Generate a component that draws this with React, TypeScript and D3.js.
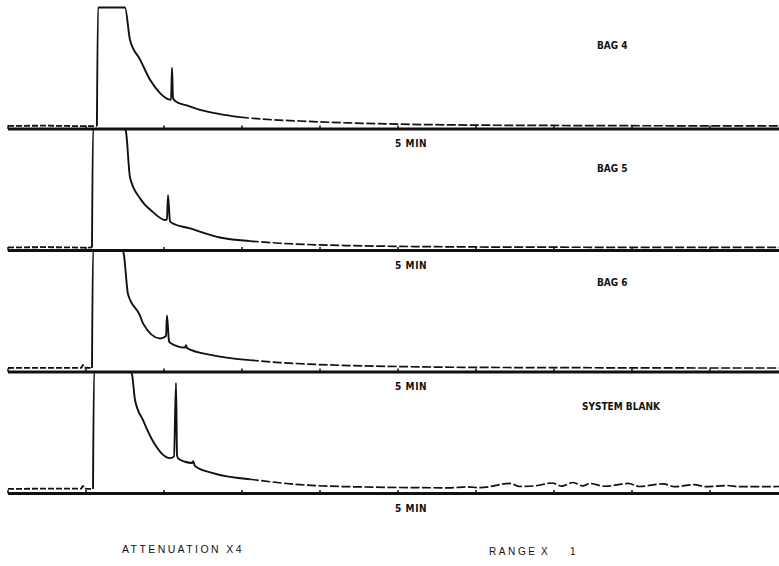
import React from "react";
import * as d3 from "d3";

// four chromatograms, response in % of chart full scale (pen clipped at 100)
const panelNames = ["BAG 4", "BAG 5", "BAG 6", "SYSTEM BLANK"];

const bag4Time = [0, 0.5, 1.0, 1.14, 1.154, 1.5, 1.564, 1.692, 1.821, 1.949, 2.051, 2.09, 2.103, 2.115, 2.141, 2.3, 2.462, 2.72, 2.974, 3.23, 3.74, 4.38, 5, 6, 7, 8, 9, 9.9];
const bag4Signal = [1.7, 1.9, 1.5, 1.7, 100, 100, 73, 57, 40, 29, 24, 23.5, 50, 25, 22.5, 18.5, 15, 11.5, 9, 7.5, 5.8, 4.2, 3.2, 2.4, 2.1, 1.9, 1.8, 1.7];

const bag5Time = [0, 0.5, 1.0, 1.077, 1.09, 1.5, 1.513, 1.564, 1.692, 1.859, 2.013, 2.038, 2.051, 2.077, 2.103, 2.333, 2.718, 3.1, 3.487, 4.38, 5, 6, 7, 8, 9, 9.9];
const bag5Signal = [1.7, 1.9, 1.6, 1.7, 100, 100, 97.5, 60, 42.5, 31, 24.5, 25, 45, 23.5, 22, 17.5, 10, 7, 5.2, 3.2, 2.6, 2.1, 1.9, 1.8, 1.7, 1.7];

const bag6Time = [0, 0.5, 0.94, 0.96, 0.98, 1.077, 1.09, 1.474, 1.487, 1.538, 1.692, 1.731, 1.949, 2.026, 2.038, 2.064, 2.077, 2.27, 2.282, 2.295, 2.628, 3.1, 3.487, 4.38, 5, 6, 7, 8, 9, 9.9];
const bag6Signal = [2.5, 2.6, 2.6, 5, 2.7, 2.5, 100, 100, 96, 64, 46, 39.5, 27, 29, 46, 25, 23.5, 19.5, 21.5, 19, 13, 9, 7, 4.5, 3.7, 3.0, 2.8, 2.6, 2.5, 2.5];

const blankTime = [0, 0.5, 0.94, 0.96, 0.98, 1.09, 1.103, 1.577, 1.59, 1.628, 1.731, 1.846, 2.077, 2.128, 2.154, 2.167, 2.179, 2.269, 2.36, 2.372, 2.397, 2.628, 3.1, 3.744, 4.38, 5.67, 5.885, 6.05, 6.436, 6.56, 6.756, 6.974, 7.103, 7.244, 7.37, 7.46, 7.654, 7.949, 8.1, 8.397, 8.55, 8.795, 8.94, 9.218, 9.38, 9.9];
const blankSignal = [3, 3.2, 3.3, 5.5, 3.3, 3, 100, 100, 98, 77, 60, 44, 28.5, 30, 91, 31, 28.5, 25.5, 24.5, 26, 22, 16, 11, 6.5, 4.8, 3.9, 4.7, 4.0, 7.5, 5, 5.5, 7.9, 5.3, 8.3, 5.5, 7.5, 5.2, 7.5, 5, 7.2, 4.8, 6.5, 4.8, 5.8, 4.8, 5];

const panelTimes = [bag4Time, bag5Time, bag6Time, blankTime];
const panelSignals = [bag4Signal, bag5Signal, bag6Signal, blankSignal];

const timeMarkLabel = "5 MIN";
const timeMarkAt = 5;
const attenuationLabel = "ATTENUATION X4";
const rangeLabel = ["RANGE", "X", "1"];

const W = 779;
const H = 566;

export default function App() {
  const x = d3.scaleLinear().domain([0, 10]).range([8, 788]);
  const panelStep = 121.5;
  const firstAxis = 128;
  const panelH = 120.5;
  const labelDy = [79, 78, 85, 83];

  const ink = "#111";

  return (
    <svg width={W} height={H} style={{ display: "block", background: "#fff" }}>
      <style>{`body{margin:0}`}</style>
      <rect x={0} y={0} width={W} height={H} fill="#fff" />
      {panelNames.map((name, i) => {
        const axisY = firstAxis + i * panelStep;
        const y = d3.scaleLinear().domain([0, 100]).range([axisY, axisY - panelH]);
        const pts: [number, number][] = panelTimes[i].map((t, k) => [t, panelSignals[i][k]]);
        const line = d3
          .line<[number, number]>()
          .x((d) => x(d[0]))
          .y((d) => y(d[1]))
          .curve(d3.curveMonotoneX);

        const i0 = pts.findIndex((d) => d[1] >= 99);
        let i1 = pts.findIndex((d) => d[0] > 2.9);
        if (i1 < 0) i1 = pts.length - 1;
        const pre = pts.slice(0, i0);
        const main = pts.slice(i0 - 1, i1 + 1);
        const tail = pts.slice(i1);

        const ticks = x.ticks(10);
        return (
          <g key={name}>
            {/* trace */}
            <path d={line(pre) || ""} fill="none" stroke={ink} strokeWidth={1.8} strokeDasharray="6 2" />
            <path d={line(main) || ""} fill="none" stroke={ink} strokeWidth={1.9} strokeLinejoin="round" />
            <path d={line(tail) || ""} fill="none" stroke={ink} strokeWidth={1.7} strokeDasharray="9 2.5" />
            {/* time axis */}
            <line x1={8} x2={W} y1={axisY + 1} y2={axisY + 1} stroke={ink} strokeWidth={2.8} />
            {ticks.map((t) => (
              <line key={t} x1={x(t)} x2={x(t)} y1={axisY + 1} y2={axisY - 2.5} stroke={ink} strokeWidth={1.5} />
            ))}
            <text
              x={x(timeMarkAt) - 3}
              y={axisY + 19}
              fontFamily="DejaVu Sans Condensed, DejaVu Sans"
              fontWeight="bold"
              fontSize={10}
              letterSpacing={0.6}
              fill={ink}
            >
              {timeMarkLabel}
            </text>
            <text
              x={name === "SYSTEM BLANK" ? 582 : 597}
              y={axisY - labelDy[i]}
              fontFamily="DejaVu Sans Condensed, DejaVu Sans"
              fontWeight="bold"
              fontSize={10}
              fill={ink}
            >
              {name}
            </text>
          </g>
        );
      })}
      <text x={122} y={553} fontFamily="Liberation Sans, Arial" fontSize={10.5} letterSpacing={2.4} fill={ink}>
        {attenuationLabel}
      </text>
      <text x={489} y={555} fontFamily="Liberation Sans, Arial" fontSize={10} letterSpacing={2.6} fill={ink}>
        {rangeLabel[0]}
      </text>
      <text x={541} y={555} fontFamily="Liberation Sans, Arial" fontSize={10} fill={ink}>
        {rangeLabel[1]}
      </text>
      <text x={570} y={555} fontFamily="Liberation Sans, Arial" fontSize={10} fill={ink}>
        {rangeLabel[2]}
      </text>
    </svg>
  );
}
